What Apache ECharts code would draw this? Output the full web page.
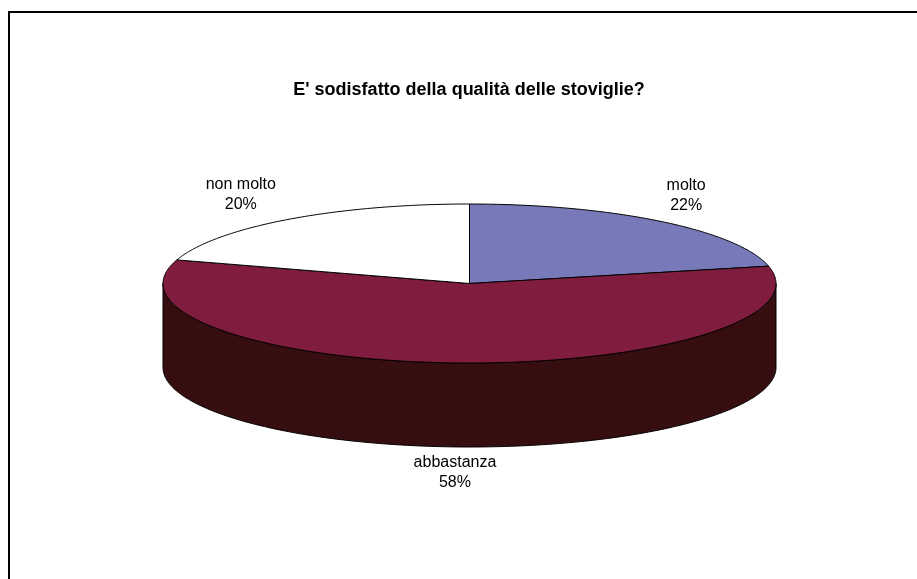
<!DOCTYPE html>
<html><head><meta charset="utf-8">
<style>html,body{margin:0;padding:0;background:#fff}#c{width:917px;height:579px}</style>
<script src="https://cdn.jsdelivr.net/npm/echarts@6/dist/echarts.min.js"></script>
</head><body><div id="c"></div>
<script>
var categories = ['molto', 'abbastanza', 'non molto'];
var values = [21.5, 58.3, 20.2];
var colors = ['#7779b9', '#801d3f', '#ffffff'];
var sideColors = ['#3b3c5c', '#370e10', '#808080'];
var labelOffsets = [[25, -26], [-2, 26], [-47, -25]];
var title = "E' sodisfatto della qualità delle stoviglie?";

var CX = 469.5, CY = 283.5, RX = 306.5, RY = 79.5, DEPTH = 84;
var total = values.reduce(function (a, b) { return a + b; }, 0);
function pt(t, dy) { return [CX + RX * Math.sin(t), CY - RY * Math.cos(t) + (dy || 0)]; }
function arc(a, b, dy) {
  var n = Math.max(2, Math.ceil(Math.abs(b - a) / 0.01)), out = [];
  for (var i = 0; i <= n; i++) out.push(pt(a + (b - a) * i / n, dy));
  return out;
}
var chart = echarts.init(document.getElementById('c'), null, { renderer: 'canvas' });
chart.setOption({
  backgroundColor: '#ffffff',
  animation: false,
  title: {
    text: title, left: 464, top: 76, textAlign: 'center',
    textStyle: { fontFamily: 'Liberation Sans', fontWeight: 'bold', fontSize: 18, color: '#000' }
  },
  graphic: [{
    type: 'polyline', silent: true,
    shape: { points: [[9, 579], [9, 12], [917, 12]] },
    style: { stroke: '#000', lineWidth: 2, fill: null }
  }],
  series: [{
    type: 'custom',
    coordinateSystem: 'none',
    data: values.map(function (v, i) { return { name: categories[i], value: [v, i] }; }),
    renderItem: function (params, api) {
      var v = api.value(0), i = api.value(1), before = 0;
      for (var k = 0; k < i; k++) before += values[k];
      var a = before / total * 2 * Math.PI, b = (before + v) / total * 2 * Math.PI;
      var children = [];
      var sa = Math.max(a, Math.PI / 2), sb = Math.min(b, 3 * Math.PI / 2);
      if (sb > sa) {
        var side = arc(sa, sb, 0).concat(arc(sb, sa, DEPTH));
        children.push({ type: 'polygon', shape: { points: side },
          style: { fill: sideColors[i], stroke: '#000', lineWidth: 1 } });
      }
      var top = [[CX, CY]].concat(arc(a, b, 0));
      children.push({ type: 'polygon', shape: { points: top },
        style: { fill: colors[i], stroke: '#000', lineWidth: 1 } });
      var mid = (a + b) / 2;
      var edge = pt(mid, (mid > Math.PI / 2 && mid < 3 * Math.PI / 2) ? DEPTH : 0);
      children.push({ type: 'text', style: {
        x: edge[0] + labelOffsets[i][0], y: edge[1] + labelOffsets[i][1],
        text: categories[i] + '\n' + Math.round(v / total * 100) + '%',
        align: 'center', verticalAlign: 'middle',
        fontFamily: 'Liberation Sans', fontSize: 16, lineHeight: 20, fill: '#000'
      } });
      return { type: 'group', children: children };
    }
  }]
});
</script></body></html>
